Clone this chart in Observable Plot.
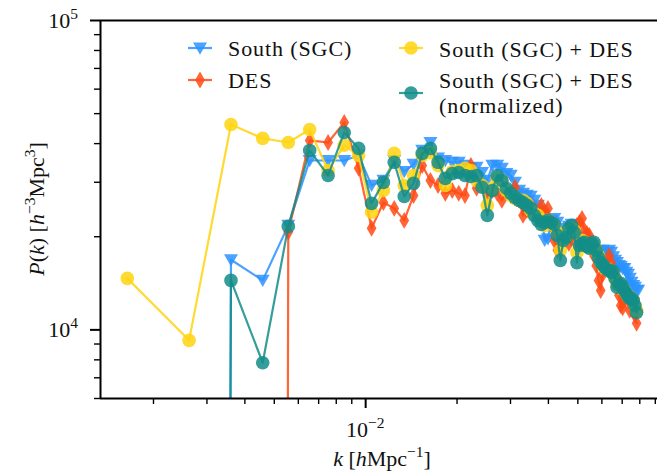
<!DOCTYPE html>
<html><head><meta charset="utf-8">
<script src="https://cdn.jsdelivr.net/npm/d3@7"></script>
<script src="https://cdn.jsdelivr.net/npm/@observablehq/plot@0.6"></script>
<style>
body{margin:0;background:#fff;}
#wrap{position:relative;width:657px;height:472px;overflow:hidden;}
</style></head><body><div id="wrap"></div>
<script>
// k bins [h/Mpc]
const k = [0.00164,0.00262,0.00360,0.00458,0.00556,0.00654,0.00752,0.00850,0.00948,0.01046,
0.01144,0.01242,0.01340,0.01438,0.01536,0.01634,0.01732,0.01830,0.01928,0.02026,
0.02124,0.02222,0.02320,0.02418,0.02516,0.02614,0.02712,0.02810,0.02908,0.03006,
0.03104,0.03202,0.03300,0.03398,0.03496,0.03594,0.03692,0.03790,0.03888,0.03986,
0.04084,0.04182,0.04280,0.04378,0.04476,0.04574,0.04672,0.04770,0.04868,0.04966,
0.05064,0.05162,0.05260,0.05358,0.05456,0.05554,0.05652,0.05750,0.05848,0.05946,
0.06044,0.06142,0.06240,0.06338,0.06436,0.06534,0.06632,0.06730,0.06828,0.06926,
0.07024,0.07122,0.07220,0.07318,0.07416,0.07514,0.07612,0.07710,0.07808,0.07906];

// P(k) per series (null = not plotted, negative = non-positive estimate)
const south = [null,-3000,16850,14450,21760,35280,35280,35280,36630,29300,
30410,35280,32500,34300,38020,40300,35900,35280,34800,34800,
34000,33300,33500,32250,30410,34000,34000,33300,32000,31560,
29970,28230,27630,27200,27000,26210,25250,24330,19460,19700,
22590,22900,22250,21300,20650,20500,21600,21930,20970,19700,
19900,19460,19040,19460,18900,18350,18070,17800,18070,17800,
18070,17360,17800,18070,17800,17230,16770,16500,16130,16010,
15790,15790,15350,15130,14670,14250,13900,13730,13410,13410];

const des = [null,null,null,-3000,20700,40950,40340,46840,33300,21300,
25800,24700,22590,27200,34000,30410,29300,27630,28230,27630,
27200,34000,28680,29300,27200,28230,27630,26210,27830,27200,
28900,26210,23440,24330,25250,24330,22900,25250,23900,24700,
21760,19460,18070,18740,20200,19460,19040,19700,20500,21760,
22250,22900,20970,20500,20200,18740,17360,16130,14450,13410,
15130,16500,16130,17360,16500,15570,15130,14130,12950,11990,
11780,12450,12950,12640,11560,11990,12450,11160,10500,null];

const combined = [14670,9250,46130,41580,40340,44450,32760,39500,36630,24000,
28230,37200,29300,31560,36630,37400,34000,29300,32500,32760,
33300,32760,30410,29300,25250,28680,30880,30410,28230,27200,
26600,26210,26210,25640,24330,23780,23440,22590,21760,22590,
22250,21760,20650,18070,19460,20050,20970,21300,20970,17800,
18740,19460,19200,18740,18350,18740,18740,18070,17360,16500,
16130,15790,15790,15570,15350,15240,14670,14020,13900,14020,
13520,13410,13120,12820,12700,12640,12450,11990,11560,null];

const normalized = [null,-3000,14450,7830,21600,38020,31560,43460,38600,25640,
29970,34800,27000,29750,37200,38600,34800,30880,32000,32250,
31560,31300,31560,28900,23440,28230,31560,30410,28680,27630,
26800,26210,25800,25250,24700,23440,22590,21930,22250,22590,
22250,21930,20200,16770,19460,19900,21300,21760,20650,16500,
18740,19040,19200,18600,18350,19040,19200,18070,17140,16500,
16250,15900,15680,15570,15350,15460,14670,13730,14020,14130,
13810,13410,13120,12820,12640,12640,12450,11990,11380,null];

const labels = ["South (SGC)", "DES", "South (SGC) + DES", "South (SGC) + DES (normalized)"];
const xTicksMajor = [0.01];
const xTicksMinor = [0.002,0.003,0.004,0.005,0.006,0.007,0.008,0.009,0.02,0.03,0.04,0.05,0.06,0.07,0.08,0.09];
const yTicksMajor = [1e4, 1e5];
const yTicksMinor = [6000,7000,8000,9000,20000,30000,40000,50000,60000,70000,80000,90000];

// marker shapes
const triDown = {draw(ctx, size){const r=Math.sqrt(size/Math.PI);
  ctx.moveTo(-r,-0.8*r);ctx.lineTo(r,-0.8*r);ctx.lineTo(0,0.95*r);ctx.closePath();}};
const thinDiamond = {draw(ctx, size){const r=Math.sqrt(size/Math.PI);
  ctx.moveTo(0,-1.3*r);ctx.lineTo(0.75*r,0);ctx.lineTo(0,1.3*r);ctx.lineTo(-0.75*r,0);ctx.closePath();}};

const styles = [
  {values: south, color:"#2b93ff", symbol: triDown, r: 7},
  {values: des, color:"#ff4a14", symbol: thinDiamond, r: 6.5},
  {values: combined, color:"#ffd30f", symbol: "circle", r: 6.8},
  {values: normalized, color:"#138d88", symbol: "circle", r: 6.8}
];

const TINY = 1e-30; // non-positive values drop off the log axis (like matplotlib clipping)
function rows(vals){
  return k.map((kv,i)=>({k:kv, v:vals[i]})).filter(d=>d.v!=null)
    .map(d=>({k:d.k, p: d.v>0 ? d.v : TINY, pos: d.v>0}));
}

const marks = [];
for (const s of styles){
  const data = rows(s.values);
  marks.push(Plot.line(data, {x:"k", y:"p", stroke:s.color, strokeWidth:2.2, strokeOpacity:0.85, clip:true}));
  marks.push(Plot.dot(data.filter(d=>d.pos), {x:"k", y:"p", fill:s.color, fillOpacity:0.85, stroke:"none", r:s.r, symbol:s.symbol, clip:true}));
}

const plot = Plot.plot({
  width: 657, height: 472,
  marginLeft: 100, marginRight: 0, marginTop: 20, marginBottom: 74,
  x: {type:"log", domain:[0.001338, 0.0915]},
  y: {type:"log", domain:[6000, 1e5]},
  style: {background:"white", overflow:"hidden"},
  marks: [
    ...marks,
    Plot.ruleX([0.001338], {stroke:"black", strokeWidth:2}),
    Plot.ruleY([6000], {stroke:"black", strokeWidth:2}),
    Plot.ruleY([1e5], {stroke:"black", strokeWidth:2}),
    Plot.axisX(xTicksMajor, {anchor:"bottom", tickSize:10, strokeWidth:2, tickFormat:()=>"", label:null}),
    Plot.axisX(xTicksMinor, {anchor:"bottom", tickSize:6, strokeWidth:1.4, tickFormat:()=>"", label:null}),
    Plot.axisY(yTicksMajor, {anchor:"left", tickSize:10, strokeWidth:2, tickFormat:()=>"", label:null}),
    Plot.axisY(yTicksMinor, {anchor:"left", tickSize:6, strokeWidth:1.4, tickFormat:()=>"", label:null})
  ]
});
document.getElementById("wrap").appendChild(plot);

// text and legend
const sx = plot.scale("x"), sy = plot.scale("y");
const fx = d3.scaleLog().domain(sx.domain).range(sx.range);
const fy = d3.scaleLog().domain(sy.domain).range(sy.range);
const svg = d3.select(plot);
const FONT = "Liberation Serif, Times New Roman, serif";
const g = svg.append("g").attr("font-family", FONT).attr("fill", "#111");

function pow10(sel, exp){
  sel.append("tspan").text("10");
  sel.append("tspan").attr("dy", -9).attr("font-size", 15.5).text(exp);
}
yTicksMajor.forEach(v=>{
  const t = g.append("text").attr("x", 78).attr("y", fy(v)+7.5).attr("text-anchor","end").attr("font-size",22);
  pow10(t, String(Math.round(Math.log10(v))));
});
xTicksMajor.forEach(v=>{
  const t = g.append("text").attr("x", fx(v)).attr("y", 437).attr("text-anchor","middle").attr("font-size",22);
  pow10(t, "\u2212" + String(-Math.round(Math.log10(v))));
});

// x label
{
  const t = g.append("text").attr("x", 382).attr("y", 466).attr("text-anchor","middle").attr("font-size",22);
  t.append("tspan").attr("font-style","italic").text("k");
  t.append("tspan").text(" [");
  t.append("tspan").attr("font-style","italic").text("h");
  t.append("tspan").text("Mpc");
  t.append("tspan").attr("dy",-9).attr("font-size",15.5).text("\u22121");
  t.append("tspan").attr("dy",9).text("]");
}
// y label
{
  const t = g.append("text").attr("transform","translate(44,209) rotate(-90)").attr("text-anchor","middle").attr("font-size",22);
  t.append("tspan").attr("font-style","italic").text("P");
  t.append("tspan").text("(");
  t.append("tspan").attr("font-style","italic").text("k");
  t.append("tspan").text(") [");
  t.append("tspan").attr("font-style","italic").text("h");
  t.append("tspan").attr("dy",-9).attr("font-size",15.5).text("\u22123");
  t.append("tspan").attr("dy",9).text("Mpc");
  t.append("tspan").attr("dy",-9).attr("font-size",15.5).text("3");
  t.append("tspan").attr("dy",9).text("]");
}

// legend
const legendItems = [
  {s: styles[0], x:188, y:48, lines:[labels[0]], ty:[56]},
  {s: styles[1], x:188, y:80, lines:[labels[1]], ty:[87.5]},
  {s: styles[2], x:399, y:48, lines:[labels[2]], ty:[56.5]},
  {s: styles[3], x:399, y:93, lines:["South (SGC) + DES","(normalized)"], ty:[88, 113]}
];
const lg = svg.append("g");
legendItems.forEach(it=>{
  lg.append("line").attr("x1", it.x).attr("x2", it.x+24).attr("y1", it.y).attr("y2", it.y)
    .attr("stroke", it.s.color).attr("stroke-width", 2.2).attr("stroke-opacity", 0.85);
  const sym = typeof it.s.symbol === "string" ? d3.symbolCircle : it.s.symbol;
  lg.append("path").attr("d", d3.symbol(sym, it.s.r*it.s.r*Math.PI)())
    .attr("transform", `translate(${it.x+12},${it.y})`).attr("fill", it.s.color).attr("fill-opacity", 0.85);
  it.lines.forEach((ln,i)=>{
    lg.append("text").attr("x", it.x+40).attr("y", it.ty[i]).attr("font-family", FONT)
      .attr("text-anchor","start")
      .attr("font-size", 22).attr("letter-spacing", 0.9).attr("fill", "#111").text(ln);
  });
});
</script></body></html>
